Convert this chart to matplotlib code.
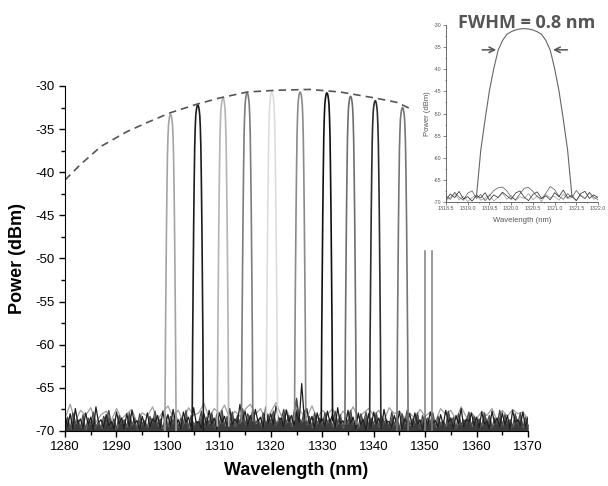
import numpy as np
import matplotlib
matplotlib.use('Agg')
import matplotlib.pyplot as plt
from matplotlib.ticker import MultipleLocator

plt.rcParams['font.family'] = ['Liberation Sans', 'DejaVu Sans']
plt.rcParams['axes.unicode_minus'] = False

# ---- data ----
# channel peaks (nm, dBm, grey level)
peak_center = [1300.5, 1305.8, 1310.7, 1315.4, 1320.2, 1325.7, 1330.9, 1335.5, 1340.3, 1345.6]
peak_top = [-33.3, -32.2, -31.4, -30.8, -30.7, -30.7, -30.8, -31.2, -31.7, -32.5]
peak_color = ['#a4a4a4', '#1c1c1c', '#b4b4b4', '#7c7c7c', '#dcdcdc',
              '#8a8a8a', '#111111', '#6e6e6e', '#2e2e2e', '#767676']

# last channel is cut off at about -49 dBm
clip_edges = [1350.0, 1351.4]
clip_top = -49.1

# peak shape: drop below the top (dB) vs offset from the centre (nm)
profile_dx = [0.0, 0.1, 0.2, 0.3, 0.4, 0.5, 0.6, 0.7, 0.8, 0.9, 1.0, 1.1]
profile_drop = [0.0, 0.08, 0.3, 0.7, 1.3, 2.7, 4.9, 9.0, 14.0, 20.5, 27.5, 38.0]

# dashed envelope
env_x = [1280, 1283, 1287, 1292, 1296.5, 1300.5, 1305.7, 1310, 1315.4, 1321,
         1327.6, 1333.5, 1340.3, 1344.5, 1347.7]
env_y = [-40.9, -39.1, -37.0, -35.3, -34.1, -33.1, -32.1, -31.4, -30.7, -30.5,
         -30.4, -30.7, -31.4, -31.9, -32.8]

# noise floor, 0.5 nm step from 1280 to 1370
noise_a = [
    -68.2, -69.5, -68.0, -69.8, -67.4, -69.1, -68.6, -69.7, -67.9, -69.3, -68.4, -69.9, -67.2, -69.0, -68.7, -69.6, -68.1, -69.4, -68.9, -69.8,
    -67.8, -69.2, -68.5, -69.7, -68.0, -69.5, -67.6, -69.1, -68.8, -69.9, -68.3, -69.4, -67.9, -69.6, -68.6, -69.0, -68.2, -69.7, -67.7, -69.3,
    -68.1, -69.5, -67.5, -69.2, -68.7, -69.8, -67.8, -69.0, -68.4, -69.6, -67.3, -69.1, -68.9, -69.7, -68.0, -69.4, -67.6, -69.2, -68.5, -69.8,
    -67.9, -69.0, -68.3, -69.5, -67.4, -69.3, -68.6, -69.1, -66.9, -68.8, -67.7, -69.4, -68.2, -69.0, -67.5, -68.9, -68.4, -69.6, -67.2, -69.1,
    -68.0, -69.3, -67.1, -68.7, -68.5, -69.5, -67.6, -68.9, -68.2, -69.4, -67.8, -69.0, -64.5, -68.6, -67.4, -69.2, -68.3, -69.7, -67.9, -69.1,
    -68.6, -69.5, -67.7, -69.0, -68.1, -69.6, -67.3, -69.2, -68.8, -69.4, -67.6, -69.1, -68.4, -69.8, -67.9, -69.3, -68.7, -69.9, -68.0, -69.5,
    -67.8, -69.2, -68.5, -69.7, -67.5, -69.0, -68.9, -69.6, -68.2, -69.3, -67.7, -69.8, -68.6, -69.1, -68.0, -69.5, -67.9, -69.2, -68.7, -69.9,
    -68.3, -69.4, -67.8, -69.1, -68.8, -69.6, -68.1, -69.3, -67.6, -69.0, -68.5, -69.7, -68.2, -69.2, -67.4, -69.5, -68.6, -69.0, -67.9, -69.4,
    -68.4, -69.6, -67.8, -69.2, -68.9, -69.7, -67.7, -69.1, -68.5, -69.5, -67.9, -69.3, -68.2, -69.8, -67.6, -69.0, -68.7, -69.4, -67.8, -69.6,
    -68.4]
noise_b = [
    -69.3, -68.4, -69.8, -67.9, -69.1, -68.7, -69.6, -68.1, -69.9, -68.5, -69.2, -67.8, -69.5, -68.9, -69.7, -68.3, -69.0, -67.6, -69.4, -68.6,
    -69.8, -68.2, -69.1, -68.7, -69.5, -67.9, -69.3, -68.5, -69.9, -68.0, -69.2, -68.8, -69.6, -68.3, -69.0, -67.7, -69.4, -68.6, -69.8, -68.1,
    -69.5, -68.3, -69.0, -67.8, -69.6, -68.5, -69.2, -67.6, -69.7, -68.2, -69.3, -68.9, -69.0, -67.7, -69.5, -68.4, -69.1, -67.9, -69.6, -68.0,
    -69.2, -67.6, -69.4, -68.3, -69.0, -67.8, -69.5, -68.2, -69.1, -67.4, -69.3, -68.0, -68.8, -67.5, -69.2, -68.6, -69.4, -67.9, -68.9, -68.1,
    -69.0, -67.7, -69.3, -68.4, -68.8, -67.5, -69.1, -68.2, -69.5, -67.8, -66.2, -68.5, -69.0, -67.6, -69.3, -68.3, -69.6, -67.9, -69.1, -68.5,
    -69.4, -67.9, -69.0, -68.6, -69.5, -67.7, -69.2, -68.1, -69.7, -68.4, -69.0, -67.6, -69.3, -68.8, -69.6, -68.0, -69.1, -67.8, -69.4, -68.5,
    -69.2, -67.9, -69.6, -68.3, -69.0, -68.7, -69.5, -67.8, -69.3, -68.4, -69.8, -68.0, -69.1, -67.6, -69.4, -68.6, -69.0, -67.9, -69.7, -68.2,
    -69.3, -68.5, -69.0, -67.9, -69.6, -68.3, -69.2, -68.8, -69.5, -67.7, -69.1, -68.4, -69.7, -68.0, -69.3, -68.7, -69.0, -67.8, -69.5, -68.3,
    -69.1, -68.6, -69.4, -67.9, -69.0, -68.2, -69.6, -68.5, -69.2, -67.6, -69.4, -68.1, -69.0, -68.7, -69.5, -68.0, -69.2, -67.9, -69.6, -68.4,
    -69.2]
# light trace, 1 nm step
noise_c = [
    -68.5, -66.9, -68.9, -67.6, -68.2, -67.3, -69.0, -68.1, -67.7, -68.8,
    -67.4, -68.6, -68.0, -67.5, -69.1, -67.9, -68.3, -67.2, -68.7, -67.8,
    -67.1, -68.4, -67.6, -68.9, -67.3, -68.2, -67.9, -66.8, -68.5, -67.4,
    -68.0, -67.0, -68.6, -67.7, -68.3, -67.5, -66.9, -68.1, -67.4, -68.7,
    -67.8, -66.7, -68.2, -67.5, -68.8, -67.3, -67.9, -68.4, -67.1, -68.6,
    -67.6, -68.1, -67.4, -68.9, -67.7, -68.3, -67.2, -68.5, -67.9, -67.4,
    -68.2, -67.6, -68.8, -67.3, -68.0, -67.7, -68.5, -67.9, -68.6, -67.5,
    -68.3, -67.8, -68.9, -67.4, -68.1, -67.6, -68.7, -67.2, -68.4, -67.9,
    -68.6, -67.7, -68.2, -67.4, -68.8, -67.6, -68.3, -67.5, -68.0, -67.8,
    -68.6]

# inset: one channel zoomed, 0.1 nm step from 1318.5 to 1322.0
inset_center = 1320.3
inset_top = -30.8
inset_xticks = [1318.5, 1319.0, 1319.5, 1320.0, 1320.5, 1321.0, 1321.5, 1322.0]
inset_n1 = [-69.5, -68.2, -69.0, -67.6, -69.3, -68.8, -69.8, -68.5, -69.1, -67.9, -69.6, -68.4, -69.0, -67.8, -68.6, -69.4, -68.0, -67.5,
            -68.9, -69.7, -68.3, -67.7, -69.2, -68.6, -69.5, -67.9, -68.8, -67.3, -69.0, -68.5, -69.7, -68.1, -67.6, -69.2, -68.4, -69.0]
inset_n2 = [-68.6, -69.4, -67.8, -68.9, -69.6, -68.0, -67.5, -69.2, -68.3, -69.7, -68.6, -67.4, -66.8, -66.6, -67.5, -68.9, -69.5, -68.2,
            -66.9, -66.7, -67.6, -68.8, -69.3, -68.0, -66.5, -67.2, -68.7, -69.4, -68.1, -69.0, -67.4, -68.6, -69.3, -67.8, -68.9, -69.5]
inset_n3 = [-69.8, -68.9, -68.1, -69.5, -68.7, -69.9, -69.0, -68.4, -69.6, -69.1, -68.3, -69.8, -68.9, -68.0, -69.4, -68.5, -69.7, -68.8,
            -69.2, -68.1, -69.5, -68.6, -69.9, -68.3, -69.0, -68.7, -69.6, -68.2, -69.3, -68.9, -69.7, -68.4, -69.1, -68.0, -69.4, -68.8]


def peak_xy(center, top):
    dx = np.array(profile_dx)
    drop = np.array(profile_drop)
    x = np.concatenate([center - dx[::-1], center + dx[1:]])
    y = np.concatenate([top - drop[::-1], top - drop[1:]])
    return x, y


fig = plt.figure(figsize=(6.08, 4.86), dpi=100)
ax = fig.add_axes([0.107, 0.1132, 0.7615, 0.7099])

# noise: dense dark floor plus overlapping traces
x_half = 1280 + 0.5 * np.arange(len(noise_a))
x_one = 1280 + 1.0 * np.arange(len(noise_c))
ax.plot(x_one, noise_c, color='#a0a0a0', lw=0.9)
ax.fill_between(x_half, -70, noise_b, color='#555555', lw=0)
ax.plot(x_half, noise_b, color='#4a4a4a', lw=0.9)
ax.fill_between(x_half, -70, np.minimum(noise_a, noise_b), color='#3c3c3c', lw=0)
ax.plot(x_half, noise_a, color='#1e1e1e', lw=0.9)

# channels
for c, t, col in zip(peak_center, peak_top, peak_color):
    px, py = peak_xy(c, t)
    ax.plot(px, py, color=col, lw=1.2)
for e in clip_edges:
    ax.plot([e, e], [-70, clip_top], color='#808080', lw=1.1)

ax.plot(env_x, env_y, color='#555555', lw=1.2, ls=(0, (4.5, 3)))

ax.set_xlim(1280, 1370)
ax.set_ylim(-70, -30)
ax.xaxis.set_major_locator(MultipleLocator(10))
ax.xaxis.set_minor_locator(MultipleLocator(5))
ax.yaxis.set_major_locator(MultipleLocator(5))
ax.yaxis.set_minor_locator(MultipleLocator(2.5))
ax.tick_params(which='major', length=4, width=1, labelsize=9.5)
ax.tick_params(which='minor', length=3, width=1)
ax.spines['top'].set_visible(False)
ax.spines['right'].set_visible(False)
ax.set_xlabel('Wavelength (nm)', fontsize=13, fontweight='bold', labelpad=6)
ax.set_ylabel('Power (dBm)', fontsize=13, fontweight='bold', labelpad=7)

# inset
ins = fig.add_axes([0.7336, 0.5844, 0.2500, 0.364])
xi = 1318.5 + 0.1 * np.arange(len(inset_n1))
ins.plot(xi, inset_n3, color='#999999', lw=0.5)
ins.plot(xi, inset_n2, color='#555555', lw=0.5)
ins.plot(xi, inset_n1, color='#222222', lw=0.5)
ix, iy = peak_xy(inset_center, inset_top)
ins.plot(ix, iy, color='#666666', lw=0.8)
ins.set_xticks(inset_xticks)
ins.set_xticklabels([f'{v:.1f}' for v in inset_xticks])
ins.xaxis.set_minor_locator(MultipleLocator(0.25))
ins.yaxis.set_major_locator(MultipleLocator(5))
ins.yaxis.set_minor_locator(MultipleLocator(2.5))
ins.set_xlim(1318.5, 1322.0)
ins.set_ylim(-70, -30)
ins.tick_params(which='major', length=2, width=0.5, labelsize=3.8, colors='#555555', pad=1)
ins.tick_params(which='minor', length=1, width=0.5, colors='#555555')
for s in ['top', 'right']:
    ins.spines[s].set_visible(False)
for s in ['left', 'bottom']:
    ins.spines[s].set_linewidth(0.6)
    ins.spines[s].set_color('#555555')
ins.set_xlabel('Wavelength (nm)', fontsize=5.5, color='#555555', labelpad=4)
ins.set_ylabel('Power (dBm)', fontsize=5.5, color='#555555', labelpad=2)
ins.patch.set_alpha(0)

ins.annotate('', xy=(1319.72, -35.6), xytext=(1319.27, -35.6),
             arrowprops=dict(arrowstyle='->', color='#555555', lw=1.1))
ins.annotate('', xy=(1320.90, -35.6), xytext=(1321.36, -35.6),
             arrowprops=dict(arrowstyle='->', color='#555555', lw=1.1))

fig.text(0.867, 0.953, 'FWHM = 0.8 nm', ha='center', va='center',
         fontsize=13, fontweight='bold', color='#555555', family=['Open Sans', 'DejaVu Sans'])

fig.savefig('out.png', dpi=100)
